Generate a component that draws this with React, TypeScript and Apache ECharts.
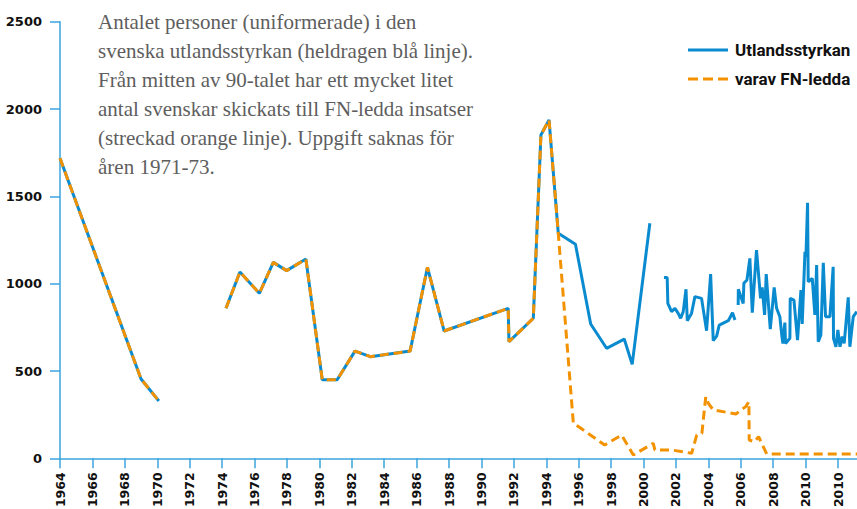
import React, { useEffect, useRef } from 'react';
import * as echarts from 'echarts';

// Tick positions and labels on the year axis (the reference repeats "2010" at the last tick)
const yearTicks = [1964, 1966, 1968, 1970, 1972, 1974, 1976, 1978, 1980, 1982, 1984, 1986, 1988, 1990, 1992, 1994, 1996, 1998, 2000, 2002, 2004, 2006, 2008, 2010, 2012];
const yearTickLabels = ['1964', '1966', '1968', '1970', '1972', '1974', '1976', '1978', '1980', '1982', '1984', '1986', '1988', '1990', '1992', '1994', '1996', '1998', '2000', '2002', '2004', '2006', '2008', '2010', '2010'];

const seriesNames = ['Utlandsstyrkan', 'varav FN-ledda'];

// Utlandsstyrkan (solid blue) — null marks a gap in the data
const utlYears = [
  1964, 1969, 1970.1, 1972,
  1974.24, 1975.1, 1976.3, 1977.16, 1977.98, 1979.17, 1980.18, 1981.1, 1982.2, 1983.15, 1985.6, 1986.67, 1987.7, 1991.65, 1991.7, 1993.2, 1993.67, 1994.17, 1994.74,
  1995.8, 1996.74, 1997.72, 1998.81, 1999.3, 2000.39, 2000.8,
  2001.26, 2001.46, 2001.5, 2001.73, 2001.94, 2002.14, 2002.29, 2002.45, 2002.62, 2002.7, 2002.96, 2003.17, 2003.58, 2003.89, 2004.14, 2004.3, 2004.51, 2004.67, 2005.23, 2005.49, 2005.64, 2005.74,
  2005.84, 2005.85, 2006.15, 2006.19, 2006.38, 2006.56, 2006.71, 2006.97, 2007.22, 2007.32, 2007.47, 2007.57, 2007.82, 2008.06, 2008.21, 2008.41, 2008.54, 2008.6, 2008.72, 2008.76, 2009.03, 2009.05, 2009.28,
  2009.5, 2009.71, 2009.79, 2009.96, 2010.02, 2010.12, 2010.16, 2010.41, 2010.57, 2010.68, 2010.78, 2010.94, 2011.09, 2011.23, 2011.5, 2011.7, 2011.72, 2011.87, 2011.99, 2012.12, 2012.26, 2012.38, 2012.63, 2012.73, 2012.94, 2013.16
];
const utlValues = [
  1718, 454, 328, null,
  859, 1067, 945, 1122, 1075, 1141, 450, 450, 614, 582, 614, 1094, 729, 859, 668, 802, 1852, 1938, 1289,
  1226, 769, 630, 683, 538, 1346, null,
  1036, 1036, 887, 840, 859, 830, 802, 840, 968, 788, 830, 926, 916, 731, 1055, 674, 700, 763, 788, 834, 792, null,
  878, 968, 887, 1002, 1021, 1145, 834, 1193, 916, 979, 821, 1055, 740, 979, 859, 811, 696, 658, 777, 658, 687, 916, 906,
  677, 964, 769, 1183, 1155, 1464, 1011, 1031, 821, 1107, 668, 706, 1120, 811, 811, 1097, 687, 639, 735, 639, 697, 658, 922, 639, 811, 840
];

// varav FN-ledda (dashed orange)
const fnYears = [
  1964, 1969, 1970.1, 1972,
  1974.24, 1975.1, 1976.3, 1977.16, 1977.98, 1979.17, 1980.18, 1981.1, 1982.2, 1983.15, 1985.6, 1986.67, 1987.7, 1991.65, 1991.7, 1993.2, 1993.67, 1994.17, 1994.74,
  1995.67, 1996.0, 1997.6, 1998.65, 1999.37, 2000.6, 2000.7, 2001.7, 2002.97, 2003.28, 2003.6, 2003.84, 2004.0, 2004.3, 2005.7, 2006.3, 2006.5, 2006.52, 2006.85, 2007.1, 2007.6, 2013.2
];
const fnValues = [
  1718, 454, 328, null,
  859, 1067, 945, 1122, 1075, 1141, 450, 450, 614, 582, 614, 1094, 729, 859, 668, 802, 1852, 1938, 1289,
  200, 181, 76, 133, 19, 86, 48, 48, 29, 133, 143, 353, 315, 277, 254, 296, 324, 105, 95, 124, 25, 25
];

const noteLines = [
  'Antalet personer (uniformerade) i den',
  'svenska utlandsstyrkan (heldragen blå linje).',
  'Från mitten av 90-talet har ett mycket litet',
  'antal svenskar skickats till FN-ledda insatser',
  '(streckad orange linje). Uppgift saknas för',
  'åren 1971-73.'
];

const BLUE = '#0a8bd0';
const ORANGE = '#f39200';
const AXIS = '#3aa5de';
const DASH = [9, 5];

function pairs(xs: number[], ys: (number | null)[]) {
  return xs.map((x, i) => [x, ys[i] === null ? '-' : ys[i]]);
}

export default function App() {
  const ref = useRef<HTMLDivElement>(null);

  useEffect(() => {
    if (!ref.current) return;
    const chart = echarts.init(ref.current, null, { renderer: 'svg' });
    const labelFont = { fontFamily: 'DejaVu Sans', fontWeight: 'bold' as const, fontSize: 13, color: '#111' };
    const legendFont = 'bold 17px Roboto';
    chart.setOption({
      animation: false,
      grid: { left: 60, right: 0, top: 21.8, bottom: 50.7, containLabel: false, outerBoundsMode: 'none' },
      xAxis: {
        type: 'value',
        min: 1964,
        max: 2013.17,
        interval: 2,
        axisLine: { show: true, lineStyle: { color: AXIS, width: 1.5 } },
        axisTick: { show: true, length: 10, lineStyle: { color: AXIS, width: 1.5 }, customValues: yearTicks },
        axisLabel: {
          ...labelFont,
          fontSize: 12.5,
          rotate: 90,
          margin: 14,
          customValues: yearTicks,
          formatter: (v: number) => {
            const i = yearTicks.indexOf(Math.round(v));
            return i >= 0 ? yearTickLabels[i] : '';
          }
        },
        splitLine: { show: false }
      },
      yAxis: {
        type: 'value',
        min: 0,
        max: 2500,
        interval: 500,
        axisLine: { show: true, lineStyle: { color: AXIS, width: 1.5 } },
        axisTick: { show: true, length: 10, lineStyle: { color: AXIS, width: 1.5 } },
        axisLabel: { ...labelFont, margin: 18, formatter: (v: number) => String(v) },
        splitLine: { show: false }
      },
      graphic: [
        {
          type: 'text',
          left: 98,
          top: 7,
          style: {
            text: noteLines.join('\n'),
            font: '21px "Liberation Serif"',
            fill: '#5e5e5e',
            lineHeight: 29
          }
        },
        {
          type: 'line',
          shape: { x1: 688, y1: 50, x2: 728, y2: 50 },
          style: { stroke: BLUE, lineWidth: 3 }
        },
        {
          type: 'text',
          x: 735,
          y: 50,
          style: { text: seriesNames[0], font: legendFont, fill: '#111', verticalAlign: 'middle' }
        },
        {
          type: 'line',
          shape: { x1: 688, y1: 79, x2: 728, y2: 79 },
          style: { stroke: ORANGE, lineWidth: 3, lineDash: [10, 5] }
        },
        {
          type: 'text',
          x: 735,
          y: 79,
          style: { text: seriesNames[1], font: legendFont, fill: '#111', verticalAlign: 'middle' }
        }
      ],
      series: [
        {
          name: seriesNames[0],
          type: 'line',
          symbol: 'none',
          connectNulls: false,
          data: pairs(utlYears, utlValues),
          lineStyle: { color: BLUE, width: 3 },
          itemStyle: { color: BLUE },
          z: 2
        },
        {
          name: seriesNames[1],
          type: 'line',
          symbol: 'none',
          connectNulls: false,
          data: pairs(fnYears, fnValues),
          lineStyle: { color: ORANGE, width: 3, type: DASH },
          itemStyle: { color: ORANGE },
          z: 3
        }
      ]
    });
    return () => chart.dispose();
  }, []);

  return <div ref={ref} style={{ position: 'absolute', left: 0, top: 0, width: 857, height: 509 }} />;
}
